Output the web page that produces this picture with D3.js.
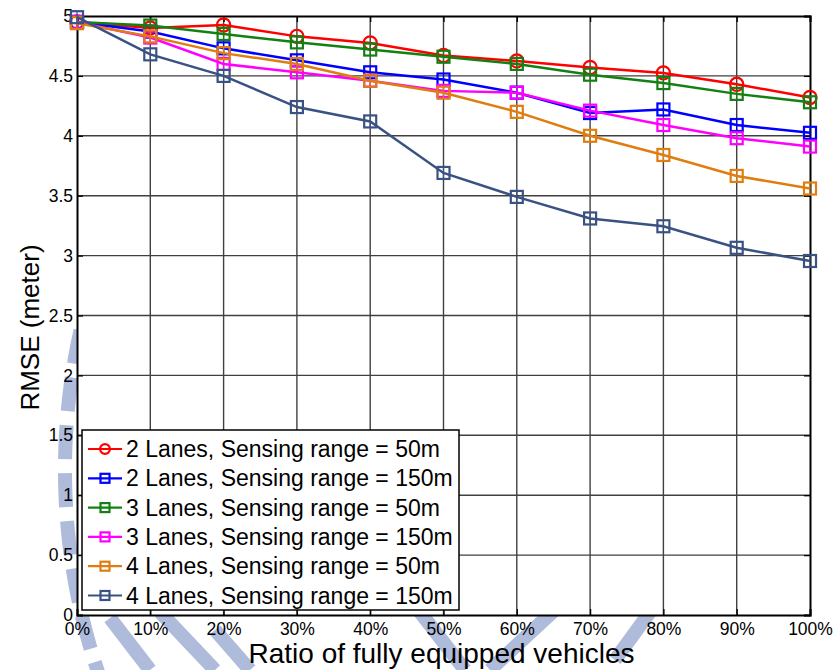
<!DOCTYPE html>
<html>
<head>
<meta charset="utf-8">
<script src="https://cdn.jsdelivr.net/npm/d3@7"></script>
<style>
body { margin: 0; background: #fff; }
svg text { font-family: "Liberation Sans", Arial, sans-serif; }
</style>
</head>
<body>
<div id="plot"></div>
<script>
var ratios = [0, 10, 20, 30, 40, 50, 60, 70, 80, 90, 100];
var yTicks = [0, 0.5, 1, 1.5, 2, 2.5, 3, 3.5, 4, 4.5, 5];

var lanes2_50 = [4.95, 4.90, 4.925, 4.83, 4.775, 4.67, 4.625, 4.57, 4.525, 4.43, 4.32];
var lanes2_150 = [4.95, 4.87, 4.73, 4.63, 4.53, 4.47, 4.36, 4.19, 4.22, 4.09, 4.025];
var lanes3_50 = [4.95, 4.92, 4.85, 4.78, 4.72, 4.66, 4.60, 4.51, 4.44, 4.35, 4.28];
var lanes3_150 = [4.95, 4.82, 4.60, 4.53, 4.46, 4.375, 4.36, 4.21, 4.09, 3.98, 3.91];
var lanes4_50 = [4.94, 4.83, 4.69, 4.60, 4.46, 4.36, 4.20, 4.00, 3.84, 3.665, 3.56];
var lanes4_150 = [4.99, 4.68, 4.50, 4.24, 4.12, 3.69, 3.49, 3.31, 3.245, 3.065, 2.955];

var names = ["2 Lanes, Sensing range = 50m", "2 Lanes, Sensing range = 150m",
	"3 Lanes, Sensing range = 50m", "3 Lanes, Sensing range = 150m",
	"4 Lanes, Sensing range = 50m", "4 Lanes, Sensing range = 150m"];
var colors = ["#ff0000", "#0000ff", "#138013", "#ff00ff", "#e07d10", "#3a5283"];
var markers = ["circle", "square", "square", "square", "square", "square"];
var allSeries = [lanes2_50, lanes2_150, lanes3_50, lanes3_150, lanes4_50, lanes4_150];

var margin = {top: 16, right: 24, bottom: 55, left: 77};
var W = 834, H = 670;
var width = W - margin.left - margin.right;
var height = H - margin.top - margin.bottom;

var svg = d3.select("#plot").append("svg")
	.attr("width", W)
	.attr("height", H);

// faint watermark in the margins
var wm = svg.append("g").attr("fill", "none").attr("stroke", "#aebbdb");
var a0 = -Math.acos(0.22), a1 = -Math.acos(-0.33);
var arcPts = d3.range(0, 41).map(function(i) {
	var a = a0 + (a1 - a0) * i / 40;
	return [700 + 635 * Math.sin(a), 470 - 635 * Math.cos(a)];
});
wm.append("path")
	.attr("d", d3.line()(arcPts))
	.attr("stroke-width", 14)
	.attr("stroke-dasharray", "34,14");
var stripes = [[110, 618, 150, 670], [160, 612, 215, 670], [215, 630, 250, 670], [420, 612, 465, 670], [560, 605, 490, 670], [650, 612, 615, 660]];
wm.selectAll("line.wm").data(stripes).enter().append("line")
	.attr("x1", function(d) { return d[0]; })
	.attr("y1", function(d) { return d[1]; })
	.attr("x2", function(d) { return d[2]; })
	.attr("y2", function(d) { return d[3]; })
	.attr("stroke-width", 14);

var g = svg.append("g")
	.attr("transform", "translate(" + margin.left + "," + margin.top + ")");

var x = d3.scaleLinear().domain([0, 100]).range([0, width]);
var y = d3.scaleLinear().domain([0, 5]).range([height, 0]);

g.append("rect").attr("width", width).attr("height", height).attr("fill", "#fff");

// grid
g.append("g").selectAll("line").data(ratios.slice(1, -1)).enter().append("line")
	.attr("x1", function(d) { return x(d); }).attr("x2", function(d) { return x(d); })
	.attr("y1", 0).attr("y2", height)
	.attr("stroke", "#404040").attr("stroke-width", 1.4);
g.append("g").selectAll("line").data(yTicks.slice(1, -1)).enter().append("line")
	.attr("y1", function(d) { return y(d); }).attr("y2", function(d) { return y(d); })
	.attr("x1", 0).attr("x2", width)
	.attr("stroke", "#404040").attr("stroke-width", 1.4);

// axes
g.append("g")
	.attr("transform", "translate(0," + height + ")")
	.call(d3.axisBottom(x).tickValues(ratios).tickSize(-6).tickPadding(8)
		.tickFormat(function(d) { return d + "%"; }));
g.append("g")
	.call(d3.axisLeft(y).tickValues(yTicks).tickSize(-6).tickPadding(4)
		.tickFormat(function(d) { return d; }));
g.append("g")
	.call(d3.axisTop(x).tickValues(ratios).tickSize(-6).tickFormat(""));
g.append("g").attr("transform", "translate(" + width + ",0)")
	.call(d3.axisRight(y).tickValues(yTicks).tickSize(-6).tickFormat(""));
g.selectAll(".domain").attr("stroke", "#000").attr("stroke-width", 2);
g.selectAll(".tick line").attr("stroke", "#000").attr("stroke-width", 1.3);
g.selectAll(".tick text").attr("font-size", 17.5).attr("fill", "#000")
	.attr("font-family", "Liberation Sans, Arial, sans-serif");

// series
var line = d3.line()
	.x(function(d, i) { return x(ratios[i]); })
	.y(function(d) { return y(d); });

function drawMarker(sel, type, color, s, cross) {
	if (type == "circle") {
		sel.append("circle").attr("r", s * 0.55)
			.attr("fill", "none").attr("stroke", color).attr("stroke-width", 2.2);
	} else {
		sel.append("rect").attr("x", -s / 2).attr("y", -s / 2).attr("width", s).attr("height", s)
			.attr("fill", "none").attr("stroke", color).attr("stroke-width", 2.2);
		if (cross) {
			sel.append("line").attr("x1", 0).attr("x2", 0).attr("y1", -s / 2).attr("y2", s / 2)
				.attr("stroke", color).attr("stroke-width", 1.2);
		}
	}
}

allSeries.forEach(function(vals, k) {
	g.append("path").datum(vals)
		.attr("d", line)
		.attr("fill", "none")
		.attr("stroke", colors[k])
		.attr("stroke-width", 2.5);
	g.append("g").selectAll("g").data(vals).enter().append("g")
		.attr("transform", function(d, i) { return "translate(" + x(ratios[i]) + "," + y(d) + ")"; })
		.each(function() { drawMarker(d3.select(this), markers[k], colors[k], 12, true); });
});

// legend
var legend = g.append("g").attr("transform", "translate(" + (82 - margin.left) + "," + (430 - margin.top) + ")");
legend.append("rect").attr("width", 377).attr("height", 180)
	.attr("fill", "#fff").attr("stroke", "#000").attr("stroke-width", 1.5);
names.forEach(function(n, k) {
	var row = legend.append("g").attr("transform", "translate(0," + (19 + k * 29.3) + ")");
	row.append("line").attr("x1", 6).attr("x2", 40).attr("stroke", colors[k]).attr("stroke-width", 2.2);
	var m = row.append("g").attr("transform", "translate(23,0)");
	drawMarker(m, markers[k], colors[k], 9, false);
	row.append("text").attr("x", 44).attr("y", 8).attr("font-size", 23).text(n);
});

// axis titles
svg.append("text")
	.attr("x", margin.left + width / 2 - 2).attr("y", 663)
	.attr("text-anchor", "middle").attr("font-size", 28)
	.text("Ratio of fully equipped vehicles");
svg.append("text")
	.attr("transform", "translate(39," + (margin.top + height / 2 + 12) + ") rotate(-90)")
	.attr("text-anchor", "middle").attr("font-size", 26)
	.text("RMSE (meter)");
</script>
</body>
</html>
